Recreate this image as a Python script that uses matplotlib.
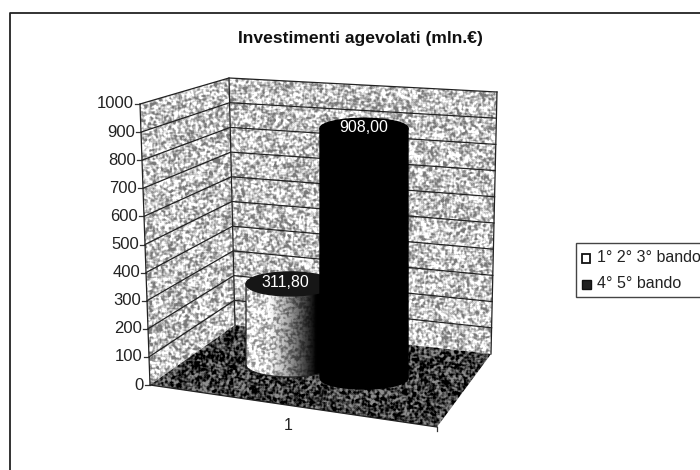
import numpy as np
import matplotlib
matplotlib.use("Agg")
import matplotlib.pyplot as plt
from matplotlib.patches import Polygon, Rectangle, Ellipse

plt.rcParams["font.family"] = ["Liberation Sans", "DejaVu Sans"]

title = "Investimenti agevolati (mln.€)"
categories = ["1"]
series_names = ["1° 2° 3° bando", "4° 5° bando"]
series_values = [311.80, 908.00]
value_labels = ["311,80", "908,00"]
y_ticks = [0, 100, 200, 300, 400, 500, 600, 700, 800, 900, 1000]

FRONT_RIGHT = (437, 427)


# the three vertical edges of the fake 3d box, in pixels of the picture
def on_edge(x0, y0, x1, y1, v):
    t = v / 1000
    return x0 + (x1 - x0) * t, y0 + (y1 - y0) * t


def left_pt(v):
    return on_edge(150, 385, 140, 104, v)


def back_pt(v):
    return on_edge(235, 325, 229, 78, v)


def right_pt(v):
    return on_edge(491, 354, 497, 92, v)


rng = np.random.RandomState(4)


def soften(n):
    return (2 * n + np.roll(n, 1, 0) + np.roll(n, -1, 0) + np.roll(n, 1, 1) + np.roll(n, -1, 1)) / 6


def speckle(ax, poly, low, high, zorder=2):
    # scanned halftone look, clipped to a polygon
    n = soften(soften(rng.rand(470, 700)))
    n = np.clip((n - 0.34) / 0.32, 0, 1)
    img = ax.imshow(low + (high - low) * n, cmap="gray", vmin=0, vmax=1,
                    extent=(0, 700, 470, 0), interpolation="nearest", zorder=zorder)
    p = Polygon(poly, closed=True, fc="none", ec="none")
    ax.add_patch(p)
    img.set_clip_path(p)


def cylinder_outline(cx, base_y, rx, ry, top_y):
    xs = np.linspace(cx - rx, cx + rx, 90)
    low = base_y + ry * np.sqrt(np.clip(1 - ((xs - cx) / rx) ** 2, 0, 1))
    return list(zip(xs, low)) + [(cx + rx, top_y), (cx - rx, top_y)]


fig = plt.figure(figsize=(7, 4.7), dpi=100, facecolor="white")
ax = fig.add_axes([0, 0, 1, 1])
ax.set_xlim(0, 700)
ax.set_ylim(470, 0)
ax.axis("off")

# chart frame, only the top and left sides are in the scan
ax.plot([9.5, 9.5, 700], [470, 12.5, 12.5], color="#222222", lw=1.3, zorder=1)

# walls and floor
speckle(ax, [left_pt(0), left_pt(1000), back_pt(1000), back_pt(0)], 0.48, 1.08)
speckle(ax, [back_pt(0), back_pt(1000), right_pt(1000), right_pt(0)], 0.48, 1.08)
speckle(ax, [left_pt(0), back_pt(0), right_pt(0), FRONT_RIGHT], -0.08, 0.55)

for v in y_ticks:
    lx, ly = left_pt(v)
    if v > 0:
        ax.plot(*zip(left_pt(v), back_pt(v), right_pt(v)), color="#222222", lw=0.9, zorder=3)
    ax.plot([lx - 5, lx], [ly, ly], color="#333333", lw=0.9, zorder=3)
    ax.text(lx - 6, ly, str(v), ha="right", va="center", fontsize=12, color="#222222")

for a, b in [(left_pt(0), left_pt(1000)), (back_pt(0), back_pt(1000)), (right_pt(0), right_pt(1000)),
             (left_pt(0), FRONT_RIGHT)]:
    ax.plot([a[0], b[0]], [a[1], b[1]], color="#222222", lw=0.9, zorder=3)
ax.plot([437, 437], [427, 431], color="#333333", lw=0.9, zorder=3)

# short cylinder, light on the left and going dark towards the tall one
top_1 = 365 - series_values[0] * 0.26
out_1 = cylinder_outline(290, 365, 44, 12, top_1)
speckle(ax, out_1, 0.55, 1.15, zorder=3)
shade = np.clip((np.linspace(246, 334, 200) - 268) / 48, 0, 1) ** 1.2
shade = np.tile(shade, (2, 1))
sh = ax.imshow(np.ones_like(shade), cmap="gray_r", alpha=shade, vmin=0, vmax=1,
               extent=(246, 334, 377, top_1), aspect="auto", zorder=3.1)
p1 = Polygon(out_1, closed=True, fc="none", ec="#222222", lw=0.9, zorder=3.2)
ax.add_patch(p1)
sh.set_clip_path(p1)
ax.add_patch(Ellipse((290, top_1), 88, 24, fc="#161616", ec="#161616", zorder=3.5))
ax.text(285, top_1 - 1, value_labels[0], color="white", fontsize=11.5, ha="center", va="center", zorder=6)

# tall cylinder
top_2 = 378 - series_values[1] * 0.275
ax.add_patch(Polygon(cylinder_outline(364, 378, 44, 11, top_2), closed=True, fc="black", ec="black", lw=1, zorder=4))
ax.add_patch(Ellipse((364, top_2), 88, 20, fc="black", ec="black", zorder=4.5))
ax.text(364, top_2 - 1, value_labels[1], color="white", fontsize=11.5, ha="center", va="center", zorder=6)

ax.text(288, 425, categories[0], ha="center", va="center", fontsize=11.5, color="#222222")
ax.text(360.5, 38, title, ha="center", va="center", fontsize=12.6, fontweight="bold", color="#111111")

# legend
ax.add_patch(Rectangle((575.5, 243), 140, 54, fc="white", ec="#444444", lw=1, zorder=5))
ax.add_patch(Rectangle((582, 254), 8, 9, fc="white", ec="#111111", lw=1.3, zorder=6))
ax.add_patch(Rectangle((582, 280), 9, 9, fc="#222222", ec="#111111", lw=1, zorder=6))
ax.text(597, 257, series_names[0], ha="left", va="center", fontsize=11.5, color="#222222", zorder=6)
ax.text(597, 284, series_names[1], ha="left", va="center", fontsize=11.5, color="#222222", zorder=6)

fig.savefig("out.png", dpi=100)
